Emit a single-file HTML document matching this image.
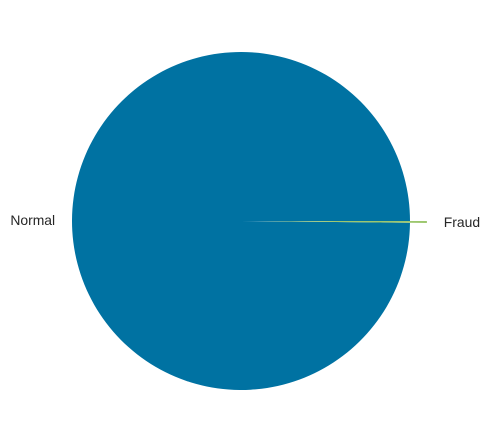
<!DOCTYPE html>
<html><head><meta charset="utf-8"><style>
body{margin:0;background:#fff;}
svg{display:block;font-family:"Liberation Sans",sans-serif;}
</style></head><body>
<svg id="chart" width="491" height="443" viewBox="0 0 491 443"></svg>
<script>
const categories = ["Normal", "Fraud"];
const values = [284315, 492];
const explode = [0, 0.1];
const colors = ["#0072a2", "#8fbf5a"];

const svg = document.getElementById('chart');
const NS = 'http://www.w3.org/2000/svg';
const cx = 241, cy = 221, r = 169;
const total = values.reduce((a, b) => a + b, 0);
let start = 0;
values.forEach((v, i) => {
  const sweep = v / total * 2 * Math.PI;
  const end = start + sweep;
  const mid = (start + end) / 2;
  const ox = cx + Math.cos(mid) * explode[i] * r;
  const oy = cy - Math.sin(mid) * explode[i] * r;
  const x1 = ox + r * Math.cos(start), y1 = oy - r * Math.sin(start);
  const x2 = ox + r * Math.cos(end), y2 = oy - r * Math.sin(end);
  const large = sweep > Math.PI ? 1 : 0;
  const p = document.createElementNS(NS, 'path');
  p.setAttribute('d', `M${ox},${oy} L${x1},${y1} A${r},${r} 0 ${large} 0 ${x2},${y2} Z`);
  p.setAttribute('fill', colors[i]);
  
  
  svg.appendChild(p);
  const lx = ox + 1.1 * r * Math.cos(mid), ly = oy - 1.1 * r * Math.sin(mid);
  const t = document.createElementNS(NS, 'text');
  t.setAttribute('x', lx);
  t.setAttribute('y', ly + 5);
  t.setAttribute('font-size', '13.9');
  t.setAttribute('fill', '#262626');
  t.setAttribute('text-anchor', Math.cos(mid) < 0 ? 'end' : 'start');
  t.textContent = categories[i];
  
  
  svg.appendChild(t);
  start = end;
});
</script>
</body></html>
